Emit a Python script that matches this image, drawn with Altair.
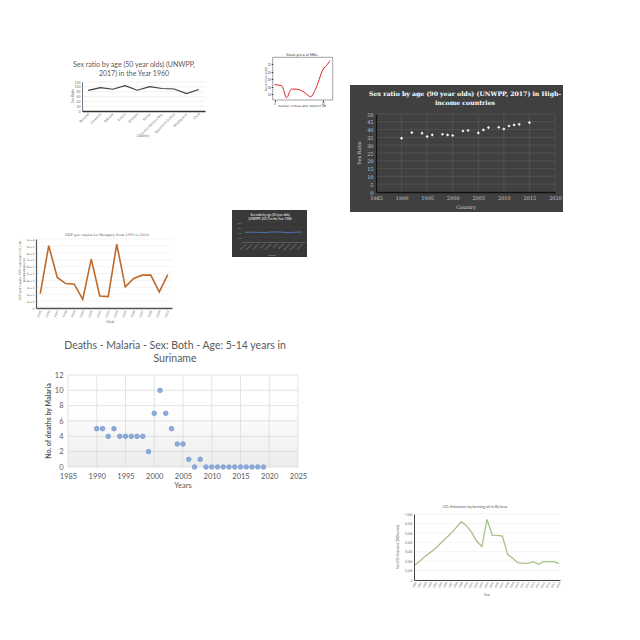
import altair as alt
import pandas as pd

M = 8      # page margin
W = 624    # drawing size

# ---------------- data ----------------
# 1: Sex ratio (50 year olds) 1960
c1_countries = ["Burundi", "Comoros", "Djibouti", "Eritrea", "Ethiopia", "Kenya",
                "Central African Rep.", "Equatorial Guinea", "Madagascar", "Chad"]
c1_values = [85, 97, 90, 105, 86, 101, 93, 91, 72, 89]
c1_yticks = [0, 20, 40, 60, 80, 100, 120]

# 2: Stock price of MRO
c2_days = [0, 3, 5, 7, 9, 12, 15, 17, 20, 22, 23]
c2_price = [16.6, 16.3, 13.1, 15.4, 15.4, 14.7, 13.4, 15.4, 20.5, 22.1, 23.0]
c2_xticks = [0, 20]
c2_yticks = [14, 16, 18, 20, 22]

# 3: Sex ratio (90 year olds) high-income countries
c3_years = [1990, 1992, 1994, 1995, 1996, 1998, 1999, 2000, 2002, 2003, 2005, 2006,
            2007, 2009, 2010, 2011, 2012, 2013, 2015]
c3_ratio = [34.5, 38.1, 37.7, 35.5, 36.6, 37.0, 36.6, 36.2, 39.1, 39.4, 37.9, 39.8,
            41.3, 41.5, 40.4, 42.3, 43.0, 43.4, 44.5]
c3_xticks = [1985, 1990, 1995, 2000, 2005, 2010, 2015, 2020]
c3_yticks = [0, 5, 10, 15, 20, 25, 30, 35, 40, 45, 50]

# 4: GDP per capita Hungary
c4_years = list(range(1995, 2011))
c4_gdp = [2090, 9030, 4420, 3540, 3450, 1260, 7090, 1750, 1650, 9270, 3060, 4270,
          4760, 4760, 2330, 4850]
c4_yticks = [0, 1000, 2000, 3000, 4000, 5000, 6000, 7000, 8000, 9000, 10000]

# 5: small dark chart
c5_countries = ["Burundi", "Comoros", "Djibouti", "Eritrea", "Ethiopia", "Kenya",
                "Malawi", "Mauritius", "Rwanda", "Uganda"]
c5_values = [96, 98, 97, 94, 99, 101, 97, 93, 98, 100]
c5_yticks = [0, 50, 100, 150, 200]

# 6: Malaria deaths Suriname
c6_years = list(range(1990, 2020))
c6_deaths = [5, 5, 4, 5, 4, 4, 4, 4, 4, 2, 7, 10, 7, 5, 3, 3, 1, 0, 1,
             0, 0, 0, 0, 0, 0, 0, 0, 0, 0, 0]
c6_xticks = [1985, 1990, 1995, 2000, 2005, 2010, 2015, 2020, 2025]
c6_yticks = [0, 2, 4, 6, 8, 10, 12]

# 7: CO2 emissions Belarus
c7_years = list(range(1990, 2019))
c7_co2 = [1590, 2050, 2510, 2930, 3360, 3890, 4420, 4950, 5550, 6180, 5760, 5050,
          4130, 3530, 6430, 4770, 4730, 4660, 2720, 2300, 1840, 1770, 1770, 1940,
          1660, 1940, 1940, 1940, 1730]
c7_yticks = [0, 1000, 2000, 3000, 4000, 5000, 6000, 7000]


# ---------------- helpers ----------------
def P(v):
    return v - M


def txt(s, x, y, size, color="#595959", font="Lato", weight="normal", angle=0, align="center"):
    kw = dict(fontSize=size, color=color, font=font, fontWeight=weight, align=align, baseline="middle")
    if angle:
        kw["angle"] = angle
    return alt.Chart(pd.DataFrame({"t": [s]})).mark_text(**kw).encode(
        x=alt.value(P(x)), y=alt.value(P(y)), text="t:N")


def box(x0, y0, x1, y1, **kw):
    return alt.Chart(pd.DataFrame({"a": [0]})).mark_rect(**kw).encode(
        x=alt.value(P(x0)), x2=alt.value(P(x1)), y=alt.value(P(y0)), y2=alt.value(P(y1)))


def hgrid(vals, scale, axis, x0, x1, color, width=0.5):
    return alt.Chart(pd.DataFrame({"y": vals})).mark_rule(color=color, strokeWidth=width).encode(
        y=alt.Y("y:Q", scale=scale, axis=axis), x=alt.value(P(x0)), x2=alt.value(P(x1)))


def vgrid(vals, scale, axis, y0, y1, color, width=0.5):
    return alt.Chart(pd.DataFrame({"x": vals})).mark_rule(color=color, strokeWidth=width).encode(
        x=alt.X("x:Q", scale=scale, axis=axis), y=alt.value(P(y0)), y2=alt.value(P(y1)))


def left_axis(X, values, **kw):
    base = dict(orient="left", offset=-P(X), values=values, grid=False, title=None, zindex=1,
                labelFlush=False, labelOverlap=False)
    base.update(kw)
    return alt.Axis(**base)


def bottom_axis(Y, values, **kw):
    base = dict(orient="bottom", offset=P(Y) - W, values=values, grid=False, title=None, zindex=1,
                labelFlush=False, labelOverlap=False)
    base.update(kw)
    return alt.Axis(**base)


# ---------------- chart 1 ----------------
df1 = pd.DataFrame({"x": c1_countries, "y": c1_values})
s1x = alt.Scale(type="point", domain=c1_countries, range=[P(82), P(205)], padding=0.5)
s1y = alt.Scale(domain=[0, 120], range=[P(111), P(82)], nice=False, zero=False)
a1x = bottom_axis(111, c1_countries, labelAngle=-45, labelAlign="right", labelBaseline="middle",
                  labelFontSize=3.5, labelColor="#777777", labelFont="Lato", domainColor="#333333",
                  domainWidth=1.5, ticks=False, labelPadding=2)
a1y = left_axis(82, c1_yticks, labelFontSize=3.5, labelColor="#777777", labelFont="Lato",
                domainColor="#555555", domainWidth=0.8, ticks=False, labelPadding=2)
ch1 = alt.layer(
    hgrid(c1_yticks[1:], s1y, a1y, 82, 205, "#e2e2e2"),
    alt.Chart(df1).mark_line(color="#404040", strokeWidth=1.2).encode(
        x=alt.X("x:N", scale=s1x, sort=None, axis=a1x),
        y=alt.Y("y:Q", scale=s1y, axis=a1y)),
    txt("Sex ratio by age (50 year olds) (UNWPP,", 134, 65, 7),
    txt("2017) in the Year 1960", 134, 74, 7),
    txt("Sex Ratio", 73, 96, 3.5, angle=270, color="#777777"),
    txt("Country", 143, 136, 3.5, color="#777777"),
)

# ---------------- chart 2 ----------------
df2 = pd.DataFrame({"x": c2_days, "y": c2_price})
s2x = alt.Scale(domain=[-0.75, 24.1], range=[P(272.7), P(332.7)], nice=False, zero=False)
s2y = alt.Scale(domain=[12.5, 23.9], range=[P(100), P(57.3)], nice=False, zero=False)
ch2 = alt.layer(
    box(272.7, 57.3, 332.7, 100, fill="white", stroke="#444444", strokeWidth=0.5),
    alt.Chart(df2).mark_line(color="#d62728", strokeWidth=1, interpolate="monotone").encode(
        x=alt.X("x:Q", scale=s2x,
                axis=bottom_axis(100, c2_xticks, labelFontSize=2.8, labelColor="#333333", domain=False,
                                 tickSize=1.5, tickColor="#333333", labelPadding=0.8)),
        y=alt.Y("y:Q", scale=s2y,
                axis=left_axis(272.7, c2_yticks, labelFontSize=2.8, labelColor="#333333", domain=False,
                               tickSize=1.5, tickColor="#333333", labelPadding=0.8))),
    txt("Stock price of MRO", 302, 55, 3.3, color="#222222", font="DejaVu Sans"),
    txt("Stock Price (USD)", 266, 79, 2.8, angle=270, color="#333333", font="DejaVu Sans"),
    txt("Number of Days after 2019-07-08", 302, 105.5, 2.8, color="#333333", font="DejaVu Sans"),
)

# ---------------- chart 3 ----------------
df3 = pd.DataFrame({"x": c3_years, "y": c3_ratio})
s3x = alt.Scale(domain=[1985, 2020], range=[P(376), P(555)], nice=False, zero=False)
s3y = alt.Scale(domain=[0, 50], range=[P(192), P(114)], nice=False, zero=False)
lab3 = dict(labelFontSize=5, labelColor="#c8c8c8", labelFont="DejaVu Serif", domainColor="#111111",
            domainWidth=1.4, ticks=False, labelPadding=3)
a3x = bottom_axis(192, c3_xticks, format="d", **lab3)
a3y = left_axis(376, c3_yticks, **lab3)
ch3 = alt.layer(
    box(350, 85, 563, 212, fill="#404040"),
    hgrid(c3_yticks, s3y, a3y, 376, 555, "#5c5c5c", 0.6),
    vgrid(c3_xticks, s3x, a3x, 114, 192, "#5c5c5c", 0.6),
    alt.Chart(df3).mark_point(filled=True, shape="diamond", size=10, color="#f2f2f2", opacity=1).encode(
        x=alt.X("x:Q", scale=s3x, axis=a3x),
        y=alt.Y("y:Q", scale=s3y, axis=a3y)),
    txt("Sex ratio by age (90 year olds) (UNWPP, 2017) in High-", 465, 94, 6.2, color="#ffffff",
        font="DejaVu Serif", weight="bold"),
    txt("income countries", 465, 102.5, 6.2, color="#ffffff", font="DejaVu Serif", weight="bold"),
    txt("Sex Ratio", 360, 153, 4.8, angle=270, color="#d9d9d9", font="DejaVu Serif"),
    txt("Country", 466, 208, 4.8, color="#d9d9d9", font="DejaVu Serif"),
)

# ---------------- chart 4 ----------------
df4 = pd.DataFrame({"x": c4_years, "y": c4_gdp})
s4x = alt.Scale(type="point", domain=c4_years, range=[P(36), P(172)], padding=0.5)
s4y = alt.Scale(domain=[0, 10000], range=[P(308), P(239)], nice=False, zero=False)
a4x = bottom_axis(308, c4_years, labelAngle=-65, labelAlign="right", labelBaseline="middle",
                  labelFontSize=3, labelColor="#666666", labelFont="DejaVu Serif",
                  domainColor="#555555", domainWidth=1.4, ticks=False, labelPadding=2)
a4y = left_axis(36, c4_yticks, format=",", labelFontSize=3, labelColor="#666666",
                labelFont="DejaVu Serif", domainColor="#555555", domainWidth=1.2,
                ticks=False, labelPadding=2)
ch4 = alt.layer(
    hgrid(c4_yticks, s4y, a4y, 36, 172, "#e8e8e8"),
    alt.Chart(df4).mark_line(color="#c0692a", strokeWidth=1.6).encode(
        x=alt.X("x:O", scale=s4x, axis=a4x),
        y=alt.Y("y:Q", scale=s4y, axis=a4y)),
    txt("GDP per capita for Hungary from 1995 to 2010", 107, 235, 3.5, font="DejaVu Serif"),
    txt("GDP per capita, PPP (constant 2011 int.", 20, 270, 3, angle=270, font="DejaVu Serif"),
    txt("international-$)", 24, 270, 3, angle=270, font="DejaVu Serif"),
    txt("YEAR", 110, 322, 3, font="DejaVu Serif"),
)

# ---------------- chart 5 ----------------
df5 = pd.DataFrame({"x": c5_countries, "y": c5_values})
s5x = alt.Scale(type="point", domain=c5_countries, range=[P(242), P(305)], padding=0.5)
s5y = alt.Scale(domain=[0, 200], range=[P(242), P(222)], nice=False, zero=False)
a5x = bottom_axis(242, c5_countries, labelAngle=-45, labelAlign="right", labelBaseline="middle",
                  labelFontSize=2.2, labelColor="#9a9a9a", domainColor="#777777",
                  domainWidth=0.5, ticks=False, labelPadding=1)
a5y = left_axis(242, c5_yticks, labelFontSize=2.2, labelColor="#9a9a9a",
                domain=False, ticks=False, labelPadding=1)
ch5 = alt.layer(
    box(232, 210, 307, 257, fill="#383838"),
    hgrid(c5_yticks, s5y, a5y, 242, 305, "#4a4a4a", 0.4),
    alt.Chart(df5).mark_line(color="#4f7fd0", strokeWidth=0.8).encode(
        x=alt.X("x:N", scale=s5x, sort=None, axis=a5x),
        y=alt.Y("y:Q", scale=s5y, axis=a5y)),
    txt("Sex ratio by age (50 year olds)", 270, 214.5, 3, color="#ffffff"),
    txt("(UNWPP, 2017) in the Year 1960", 270, 218.5, 3, color="#ffffff"),
    txt("Country", 272, 255, 2.2, color="#aaaaaa"),
)

# ---------------- chart 6 ----------------
df6 = pd.DataFrame({"x": c6_years, "y": c6_deaths})
s6x = alt.Scale(domain=[1985, 2025], range=[P(68), P(298)], nice=False, zero=False)
s6y = alt.Scale(domain=[0, 12], range=[P(467), P(375)], nice=False, zero=False)
grad = alt.LinearGradient(gradient="linear", x1=0, y1=0, x2=0, y2=1,
                          stops=[alt.GradientStop(color="#ffffff", offset=0),
                                 alt.GradientStop(color="#ffffff", offset=0.35),
                                 alt.GradientStop(color="#ececec", offset=1)])
lab6 = dict(labelFontSize=7.5, labelColor="#595959", labelFont="Lato", domain=False, ticks=False)
a6x = bottom_axis(467, c6_xticks, format="d", labelPadding=5, **lab6)
a6y = left_axis(68, c6_yticks, labelPadding=5, **lab6)
ch6 = alt.layer(
    box(68, 375, 298, 467, color=grad),
    hgrid(c6_yticks, s6y, a6y, 68, 298, "#d9d9d9", 0.7),
    vgrid(c6_xticks, s6x, a6x, 375, 467, "#d9d9d9", 0.7),
    alt.Chart(df6).mark_circle(size=22, color="#8eaadb", stroke="#6f8fc6", strokeWidth=0.6, opacity=1).encode(
        x=alt.X("x:Q", scale=s6x, axis=a6x),
        y=alt.Y("y:Q", scale=s6y, axis=a6y)),
    txt("Deaths - Malaria - Sex: Both - Age: 5-14 years in", 175, 346, 10.5),
    txt("Suriname", 175, 359, 10.5),
    txt("No. of deaths by Malaria", 49, 421, 7, angle=270, weight="bold"),
    txt("Years", 183, 486, 7.5),
)

# ---------------- chart 7 ----------------
df7 = pd.DataFrame({"x": c7_years, "y": c7_co2})
s7x = alt.Scale(type="point", domain=c7_years, range=[P(414), P(560)], padding=0.2)
s7y = alt.Scale(domain=[0, 7000], range=[P(580), P(514)], nice=False, zero=False)
a7x = bottom_axis(580, c7_years, labelAngle=-60, labelAlign="right", labelBaseline="middle",
                  labelFontSize=2.8, labelColor="#666666", domainColor="#444444",
                  domainWidth=1.2, ticks=False, labelPadding=1.5)
a7y = left_axis(414, c7_yticks, labelFontSize=3, labelColor="#666666",
                domainColor="#444444", domainWidth=1.0, ticks=False, labelPadding=2)
ch7 = alt.layer(
    hgrid(c7_yticks, s7y, a7y, 414, 560, "#e8e8e8"),
    alt.Chart(df7).mark_line(color="#a9c18b", strokeWidth=1.3).encode(
        x=alt.X("x:O", scale=s7x, axis=a7x),
        y=alt.Y("y:Q", scale=s7y, axis=a7y)),
    txt("CO₂ Emissions by burning oil in Belarus", 475, 507, 3.8),
    txt("Total CO₂ Emissions ('000 tonnes)", 398, 547, 3, angle=270),
    txt("Year", 487, 594.5, 3.2),
)

chart = alt.layer(ch1, ch2, ch3, ch4, ch5, ch6, ch7).resolve_scale(
    x="independent", y="independent"
).properties(
    width=W, height=W, autosize=alt.AutoSizeParams(type="none"), padding=0
).configure_view(stroke=None)

chart.save("out.html", embed_options={"renderer": "svg", "actions": False})
